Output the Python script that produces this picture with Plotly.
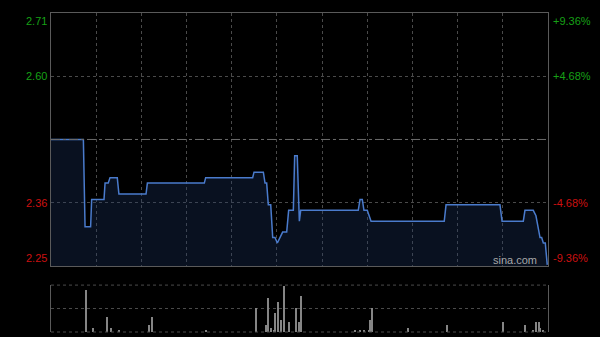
import plotly.graph_objects as go

# ---- data ----
prev_close = 2.48
pct_levels = [9.36, 4.68, -4.68, -9.36]
price_labels = ["2.71", "2.60", "2.36", "2.25"]
pct_labels = ["+9.36%", "+4.68%", "-4.68%", "-9.36%"]

# minutes since open (HK session, lunch removed: 0..330)
price_times = [0, 21.5, 22.6, 26.3, 27, 35.2, 35.9, 38, 39.2, 44, 45.1, 63.1, 64,
               101.8, 102.7, 133.9, 134.8, 141, 142.1, 143.2, 144.3, 145.9, 147.2,
               148.7, 150.3, 152, 153.8, 156.5, 157.8, 160.9, 161.8, 163.5, 164.9,
               165.8, 204, 205.2, 206.7, 207.8, 210, 212.5, 261.1, 262.3, 298.1,
               299.5, 313.6, 314.7, 320.2, 322, 323.6, 324.7, 325.8, 326.9, 328.2, 329.5]
prices = [2.48, 2.48, 2.32, 2.32, 2.37, 2.37, 2.40, 2.40, 2.41, 2.41, 2.38, 2.38, 2.40,
          2.40, 2.41, 2.41, 2.42, 2.42, 2.40, 2.40, 2.36, 2.36, 2.30,
          2.30, 2.29, 2.30, 2.31, 2.31, 2.35, 2.35, 2.45, 2.45, 2.33,
          2.35, 2.35, 2.37, 2.37, 2.35, 2.35, 2.33, 2.33, 2.36, 2.36,
          2.33, 2.33, 2.35, 2.35, 2.34, 2.32, 2.30, 2.30, 2.29, 2.29, 2.25]

vol_times = [23, 28, 37, 40, 45, 65, 67, 103, 136, 143, 144, 146, 148, 149, 151, 153,
             155, 158, 163, 165, 166, 202, 205, 208, 211, 212, 213, 237, 263, 300,
             315, 320, 322, 324, 325, 327]
volumes = [89, 9, 31, 9, 5, 14, 31, 5, 50, 14, 73, 9, 5, 41, 63, 25,
           98, 21, 50, 21, 77, 5, 5, 5, 5, 25, 50, 9, 14, 21,
           14, 5, 21, 21, 9, 5]

session_minutes = 330
grid_step = 30

# ---- derived ----
ymax = prev_close * (1 + pct_levels[0] / 100)
ymin = prev_close * (1 + pct_levels[-1] / 100)
levels = [prev_close * (1 + p / 100) for p in pct_levels]

GREEN = "#16a016"
RED = "#cc1010"
GRID = "#4a4a4a"
BORDER = "#5a5a5a"
FONT = "Liberation Sans"

fig = go.Figure()

fig.add_trace(go.Scatter(
    x=price_times, y=prices, mode="lines",
    line=dict(color="#4a7bcc", width=1.5),
    fill="tozeroy", fillcolor="rgba(30,55,105,0.30)",
    xaxis="x", yaxis="y", hoverinfo="skip"))

fig.add_trace(go.Bar(
    x=vol_times, y=volumes, width=0.8,
    marker=dict(color="#858585", line=dict(width=0)),
    xaxis="x2", yaxis="y2", hoverinfo="skip"))

top_dom = [0.207, 1.0]
bot_dom = [0.0, 0.147]

fig.update_layout(
    width=600, height=337,
    margin=dict(l=51, r=52, t=13, b=5),
    paper_bgcolor="black", plot_bgcolor="black",
    showlegend=False, bargap=0,
    xaxis=dict(range=[0, session_minutes], domain=[0, 1], anchor="y",
               tick0=0, dtick=grid_step, showticklabels=False, ticks="",
               showgrid=True, gridcolor=GRID, griddash="dot", gridwidth=1,
               showline=True, linecolor=BORDER, linewidth=1, mirror=True,
               zeroline=False, fixedrange=True),
    yaxis=dict(range=[ymin, ymax], domain=top_dom, anchor="x",
               tickvals=[levels[1], levels[2]], showticklabels=False, ticks="",
               showgrid=True, gridcolor=GRID, griddash="dot", gridwidth=1,
               showline=True, linecolor=BORDER, linewidth=1, mirror=True,
               zeroline=False, fixedrange=True),
    xaxis2=dict(range=[0, session_minutes], domain=[0, 1], anchor="y2",
                showticklabels=False, ticks="", showgrid=False,
                showline=False, zeroline=False, fixedrange=True),
    yaxis2=dict(range=[0, 100], domain=bot_dom, anchor="x2",
                tickvals=[50], showticklabels=False, ticks="",
                showgrid=True, gridcolor=GRID, griddash="dot", gridwidth=1,
                showline=True, linecolor=BORDER, linewidth=1, mirror=True,
                zeroline=False, fixedrange=True),
)

# volume panel top / bottom dotted lines
for yy in (0, 1):
    fig.add_shape(type="line", xref="x2 domain", yref="y2 domain",
                  x0=0, x1=1, y0=yy, y1=yy,
                  line=dict(color=GRID, width=1, dash="dot"))

# previous close line
fig.add_shape(type="line", xref="x", yref="y", x0=0, x1=session_minutes,
              y0=prev_close, y1=prev_close,
              line=dict(color="#6a6a6a", width=1, dash="dashdot"))

# axis labels
anchors = ["top", "middle", "middle", "bottom"]
for i, (lv, pl, cl) in enumerate(zip(levels, price_labels, pct_labels)):
    col = GREEN if pct_levels[i] > 0 else RED
    fig.add_annotation(x=0, xref="paper", y=lv, yref="y", text=pl,
                       showarrow=False, xanchor="right", yanchor=anchors[i],
                       xshift=-2, font=dict(family=FONT, size=11, color=col))
    fig.add_annotation(x=1, xref="paper", y=lv, yref="y", text=cl,
                       showarrow=False, xanchor="left", yanchor=anchors[i],
                       xshift=3, font=dict(family=FONT, size=11, color=col))

fig.add_annotation(x=1, xref="paper", y=ymin, yref="y", text="sina.com",
                   showarrow=False, xanchor="right", yanchor="bottom",
                   xshift=-9, yshift=-2,
                   font=dict(family=FONT, size=11, color="#a8a8a8"))

fig.write_html("out.html")
